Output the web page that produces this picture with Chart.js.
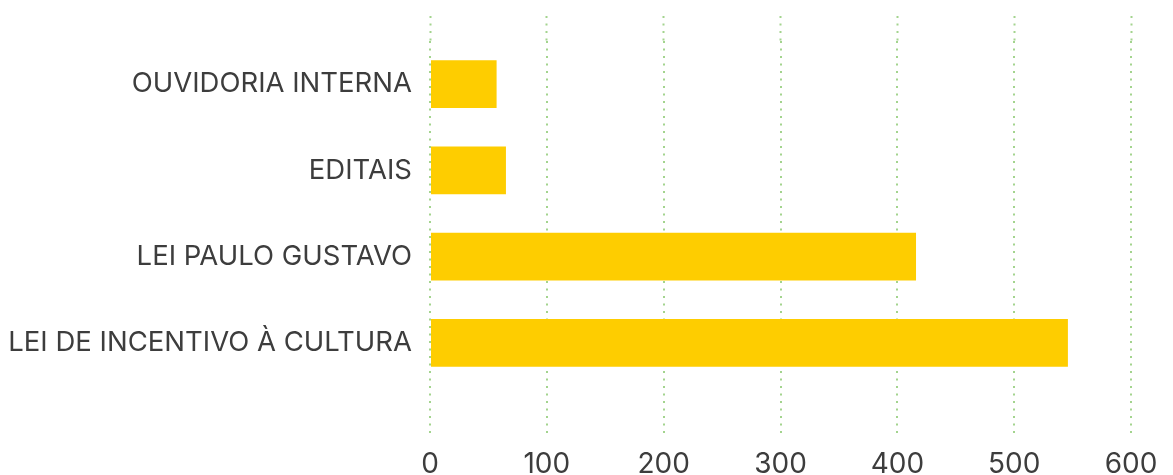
<!DOCTYPE html>
<html>
<head>
<meta charset="utf-8">
<script src="https://cdn.jsdelivr.net/npm/chart.js@4/dist/chart.umd.min.js"></script>
<style>
  html, body { margin: 0; padding: 0; background: #fff; }
  #wrap { width: 1173px; height: 475px; position: relative; }
</style>
</head>
<body>
<div id="wrap"><canvas id="myChart"></canvas></div>
<script>
var categories = ['OUVIDORIA INTERNA', 'EDITAIS', 'LEI PAULO GUSTAVO', 'LEI DE INCENTIVO À CULTURA'];
var values = [57, 65, 416, 546];
var xMin = 0;
var xMax = 600;
var xStep = 100;

var gridColor = '#a3d48e';
var textColor = '#3d3d3d';

var ctx = document.getElementById('myChart');
var currentChart = new Chart(ctx, {
    type: 'bar',
    data: {
        labels: categories,
        datasets: [{
            data: values,
            backgroundColor: '#fecd00',
            borderWidth: 0,
            barPercentage: 0.555,
            categoryPercentage: 1
        }]
    },
    options: {
        indexAxis: 'y',
        responsive: true,
        maintainAspectRatio: false,
        animation: false,
        layout: { padding: { top: 16, right: 42, bottom: 0, left: 0 } },
        plugins: { legend: { display: false }, tooltip: { enabled: false } },
        scales: {
            x: {
                position: 'bottom',
                min: xMin,
                max: xMax,
                afterFit: function (scale) { scale.height = 89; },
                ticks: {
                    stepSize: xStep,
                    padding: 14,
                    color: textColor,
                    font: { family: 'Inter', size: 28 }
                },
                border: { display: false, dash: [2, 5.5] },
                grid: {
                    color: gridColor,
                    lineWidth: 2,
                    tickLength: 48,
                    tickColor: gridColor,
                    tickWidth: 2,
                    tickBorderDash: [2, 5.5]
                }
            },
            x2: {
                position: 'top',
                min: xMin,
                max: xMax,
                ticks: { stepSize: xStep, display: false },
                border: { display: false },
                grid: {
                    drawOnChartArea: false,
                    tickLength: 25,
                    tickColor: gridColor,
                    tickWidth: 2,
                    tickBorderDash: [2, 5.5]
                }
            },
            y: {
                afterFit: function (scale) { scale.width = 430; },
                ticks: {
                    padding: 18,
                    color: textColor,
                    font: { family: 'Inter', size: 27.5 }
                },
                border: { display: false },
                grid: { display: false, drawTicks: false }
            }
        }
    }
});
</script>
</body>
</html>
